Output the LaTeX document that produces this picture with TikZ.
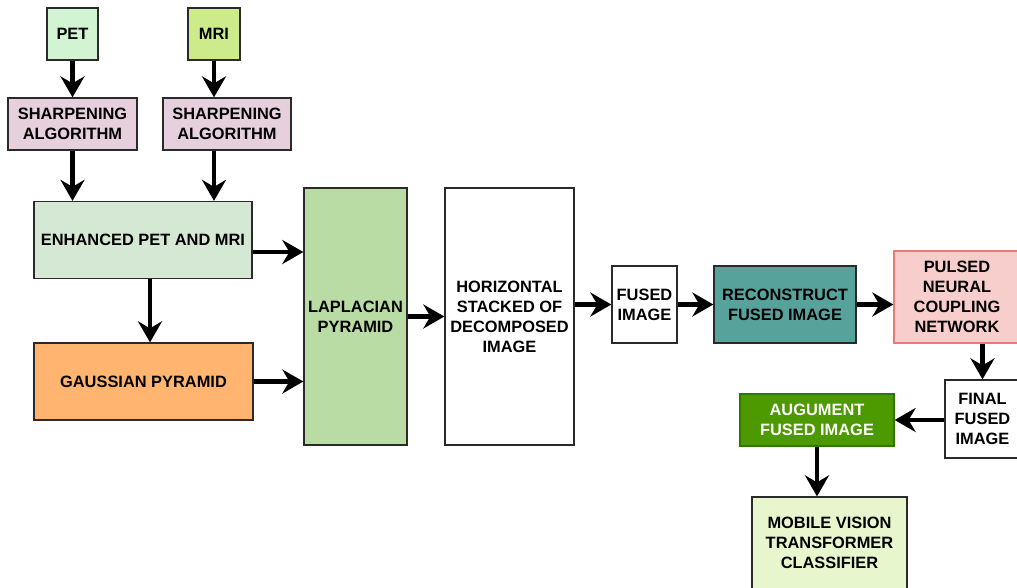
\documentclass[tikz,border=0pt]{standalone}
\usepackage{fontspec}
\setmainfont{Liberation Sans}
\usetikzlibrary{arrows.meta}
\definecolor{petgreen}{HTML}{D2F4D2}
\definecolor{mrigreen}{HTML}{CDEB8B}
\definecolor{sharppink}{HTML}{E6D0DE}
\definecolor{enhgreen}{HTML}{D5E8D4}
\definecolor{gaussorange}{HTML}{FFB570}
\definecolor{lapgreen}{HTML}{B9DCA5}
\definecolor{reconteal}{HTML}{58A29C}
\definecolor{pulsedpink}{HTML}{F8CECC}
\definecolor{pulsedline}{HTML}{EA7A76}
\definecolor{auggreen}{HTML}{4D9900}
\definecolor{augline}{HTML}{2D7600}
\definecolor{mobilegreen}{HTML}{E8F6CD}
\definecolor{boxline}{HTML}{2A2A2A}

\begin{document}
\begin{tikzpicture}[x=1pt,y=-1pt]
\tikzset{box/.style={draw=boxline,line width=1.3pt,align=center,inner sep=0pt,
  font=\bfseries\fontsize{16.4}{20}\selectfont}}
\tikzset{flow/.style={line width=4.5pt,-{Stealth[length=21pt,width=24pt,inset=7pt]}}}
\path[use as bounding box,clip] (0,0) rectangle (1017,587);

\node[box,fill=petgreen,minimum width=51pt,minimum height=52pt] (pet) at (72.5,34) {PET};
\node[box,fill=mrigreen,minimum width=52pt,minimum height=52pt] (mri) at (214,34) {MRI};
\node[box,fill=sharppink,minimum width=129pt,minimum height=52pt] (sharpA) at (72.5,124) {SHARPENING\\ALGORITHM};
\node[box,fill=sharppink,minimum width=128pt,minimum height=52pt] (sharpB) at (227,124) {SHARPENING\\ALGORITHM};
\node[box,fill=enhgreen,minimum width=218pt,minimum height=77pt] (enh) at (143,240) {ENHANCED PET AND MRI};
\node[box,fill=gaussorange,minimum width=219pt,minimum height=77pt] (gauss) at (143.5,381.5) {GAUSSIAN PYRAMID};
\node[box,fill=lapgreen,minimum width=103pt,minimum height=257pt] (lap) at (355.5,316.5) {LAPLACIAN\\PYRAMID};
\node[box,fill=white,minimum width=129pt,minimum height=257pt] (horiz) at (509.5,316.5) {HORIZONTAL\\STACKED OF\\DECOMPOSED\\IMAGE};
\node[box,fill=white,minimum width=65pt,minimum height=77pt] (fused) at (644.5,304.5) {FUSED\\IMAGE};
\node[box,fill=reconteal,minimum width=142pt,minimum height=77pt] (recon) at (785,304.5) {RECONSTRUCT\\FUSED IMAGE};
\node[box,draw=pulsedline,fill=pulsedpink,minimum width=126pt,minimum height=92pt] (pulsed) at (957,297) {PULSED\\NEURAL\\COUPLING\\NETWORK};
\node[box,fill=white,minimum width=75pt,minimum height=78pt] (final) at (982.5,419) {FINAL\\FUSED\\IMAGE};
\node[box,draw=augline,fill=auggreen,text=white,minimum width=154pt,minimum height=52pt] (aug) at (817,420) {AUGUMENT\\FUSED IMAGE};
\node[box,fill=mobilegreen,minimum width=155pt,minimum height=92pt] (mobile) at (829.5,543) {MOBILE VISION\\TRANSFORMER\\CLASSIFIER};

\draw[flow] (pet) -- (sharpA);
\draw[flow] (mri.south) -- (mri.south |- sharpB.north);
\draw[flow] (sharpA.south) -- (sharpA.south |- enh.north);
\draw[flow] (mri.south |- sharpB.south) -- (mri.south |- enh.north);
\draw[flow] ([xshift=7pt]enh.south) -- ([xshift=7pt]enh.south |- gauss.north);
\draw[flow] ([yshift=-12pt]enh.east) -- ([yshift=-12pt]enh.east -| lap.west);
\draw[flow] (gauss.east) -- (gauss.east -| lap.west);
\draw[flow] (lap) -- (horiz);
\draw[flow] (horiz.east |- fused) -- (fused.west);
\draw[flow] (fused) -- (recon);
\draw[flow] (recon.east) -- (recon.east -| pulsed.west);
\draw[flow] (final.north |- pulsed.south) -- (final.north);
\draw[flow] (final.west |- aug.east) -- (aug.east);
\draw[flow] (aug.south) -- (aug.south |- mobile.north);
\end{tikzpicture}
\end{document}
